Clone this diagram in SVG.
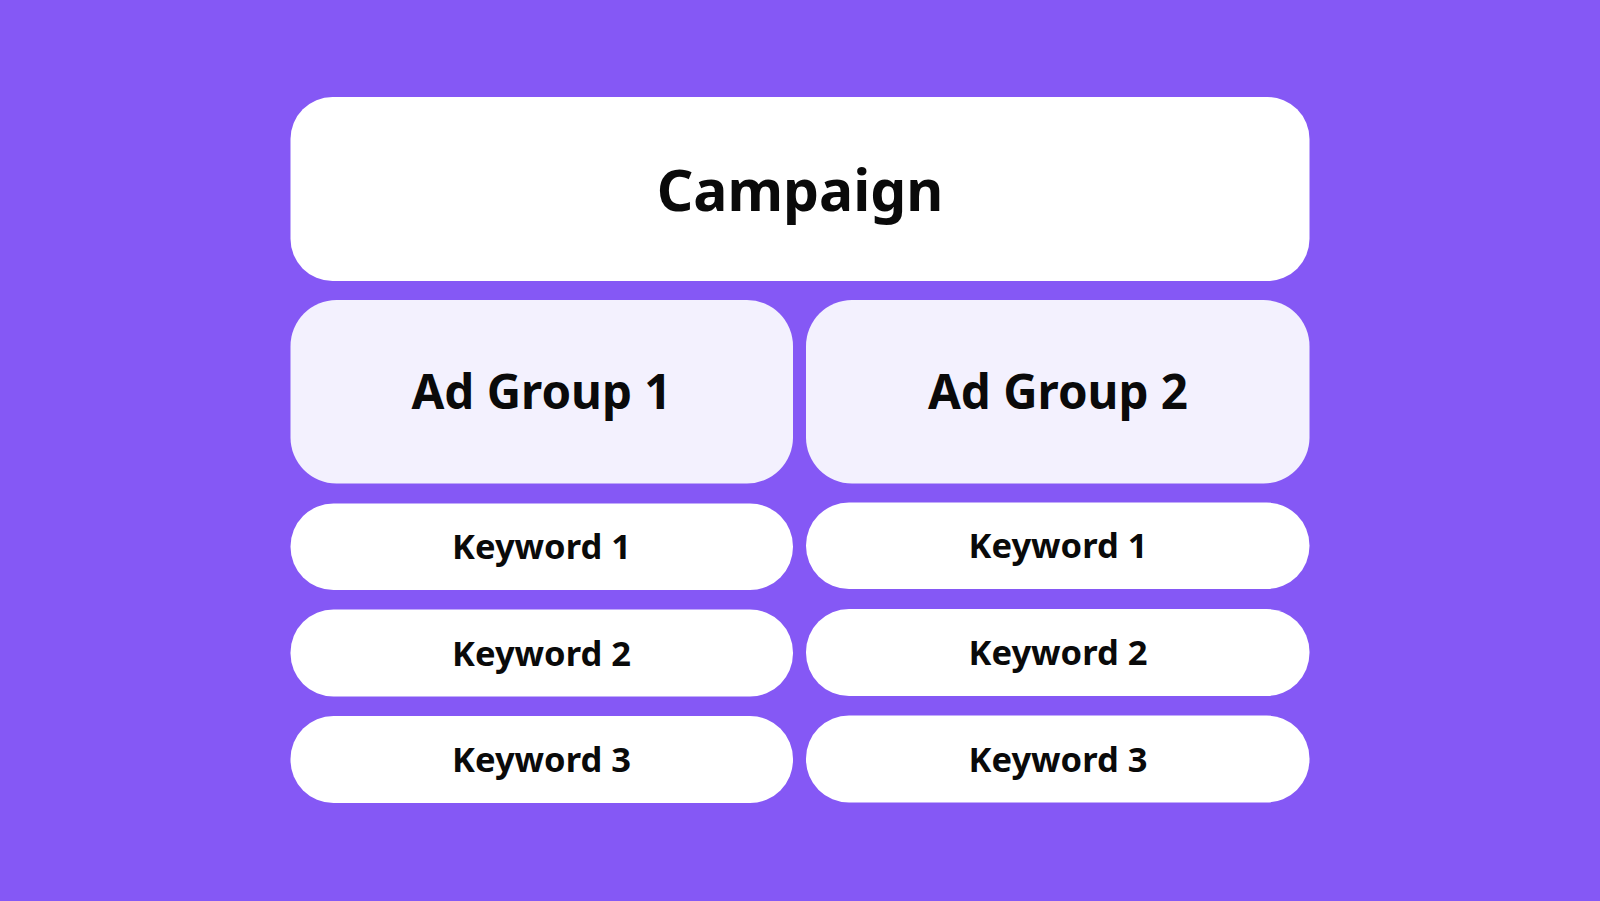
<svg xmlns="http://www.w3.org/2000/svg" width="1600" height="901" viewBox="0 0 1600 901">
<style>
.white{fill:#FFFFFF}
.light{fill:#F3F1FE}
.t{font-family:"Noto Sans","Open Sans","Liberation Sans",sans-serif;font-weight:700;fill:#0A0A0A;text-anchor:middle}
.t1{font-size:57px}
.t2{font-size:47.5px}
.t3{font-size:34.5px}
</style>
<rect x="0" y="0" width="1600" height="901" fill="#8558F5"/>
<g id="campaign">
<rect class="white" x="290.5" y="97" width="1019" height="184" rx="42" ry="42"/>
<text class="t t1" x="800" y="211">Campaign</text>
</g>
<g id="adgroup1">
<rect class="light" x="290.5" y="300" width="502.5" height="183.5" rx="46" ry="46"/>
<text class="t t2" x="541.5" y="409">Ad Group 1</text>
</g>
<g id="adgroup2">
<rect class="light" x="806" y="300" width="503.5" height="183.5" rx="46" ry="46"/>
<text class="t t2" x="1058" y="409">Ad Group 2</text>
</g>
<g id="ag1-keyword1">
<rect class="white" x="290.5" y="503.5" width="502.5" height="86.5" rx="43" ry="43"/>
<text class="t t3" x="541.5" y="559">Keyword 1</text>
</g>
<g id="ag1-keyword2">
<rect class="white" x="290.5" y="609.5" width="502.5" height="87" rx="43" ry="43"/>
<text class="t t3" x="541.5" y="665.5">Keyword 2</text>
</g>
<g id="ag1-keyword3">
<rect class="white" x="290.5" y="716" width="502.5" height="87" rx="43" ry="43"/>
<text class="t t3" x="541.5" y="772">Keyword 3</text>
</g>
<g id="ag2-keyword1">
<rect class="white" x="806" y="502.5" width="503.5" height="86.5" rx="43" ry="43"/>
<text class="t t3" x="1058" y="558">Keyword 1</text>
</g>
<g id="ag2-keyword2">
<rect class="white" x="806" y="609" width="503.5" height="87" rx="43" ry="43"/>
<text class="t t3" x="1058" y="665">Keyword 2</text>
</g>
<g id="ag2-keyword3">
<rect class="white" x="806" y="715.5" width="503.5" height="87" rx="43" ry="43"/>
<text class="t t3" x="1058" y="771.5">Keyword 3</text>
</g>
<g id="connectors"></g>
</svg>
